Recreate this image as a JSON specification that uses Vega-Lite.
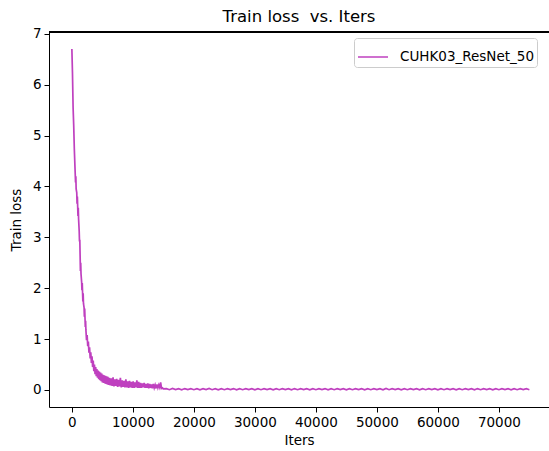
{
  "$schema": "https://vega.github.io/schema/vega-lite/v6.json",
  "width": 500,
  "height": 375,
  "autosize": {"type": "none"},
  "padding": {"left": 49, "top": 32, "right": 0, "bottom": 44},
  "background": "white",
  "config": {
    "font": "DejaVu Sans",
    "view": {"stroke": null},
    "axis": {"labelFont": "DejaVu Sans", "titleFont": "DejaVu Sans", "labelColor": "#000", "titleColor": "#000", "domainColor": "#000", "tickColor": "#000", "grid": false, "labelFontSize": 13.5, "titleFontSize": 13.5, "titleFontWeight": "normal", "tickSize": 5, "labelPadding": 3, "domainWidth": 1, "tickWidth": 1}
  },
  "title": {"text": "Train loss\u00a0\u00a0vs. Iters", "fontSize": 16.5, "fontWeight": "normal", "font": "DejaVu Sans", "color": "#000", "offset": 1, "anchor": "middle"},
  "data": {"values": [
    {"iter": 0, "loss": 6.70}, {"iter": 100, "loss": 6.22}, {"iter": 200, "loss": 5.55}, {"iter": 300, "loss": 5.20}, {"iter": 400, "loss": 4.74},
    {"iter": 500, "loss": 4.40}, {"iter": 600, "loss": 4.08}, {"iter": 650, "loss": 4.20}, {"iter": 700, "loss": 3.95}, {"iter": 800, "loss": 3.88}, {"iter": 850, "loss": 3.66}, {"iter": 900, "loss": 3.80},
    {"iter": 1000, "loss": 3.42}, {"iter": 1050, "loss": 3.58}, {"iter": 1100, "loss": 3.36}, {"iter": 1200, "loss": 3.12}, {"iter": 1250, "loss": 2.92}, {"iter": 1300, "loss": 2.95}, {"iter": 1400, "loss": 2.34},
    {"iter": 1450, "loss": 2.50}, {"iter": 1500, "loss": 2.28}, {"iter": 1600, "loss": 2.12}, {"iter": 1650, "loss": 1.96}, {"iter": 1700, "loss": 2.10}, {"iter": 1800, "loss": 1.74}, {"iter": 1850, "loss": 1.90}, {"iter": 1900, "loss": 1.70},
    {"iter": 2000, "loss": 1.62}, {"iter": 2050, "loss": 1.44}, {"iter": 2100, "loss": 1.60}, {"iter": 2200, "loss": 1.24}, {"iter": 2250, "loss": 1.36}, {"iter": 2300, "loss": 1.18}, {"iter": 2400, "loss": 0.98},
    {"iter": 2500, "loss": 1.08}, {"iter": 2600, "loss": 0.86}, {"iter": 2700, "loss": 0.95}, {"iter": 2800, "loss": 0.73}, {"iter": 2900, "loss": 0.84},
    {"iter": 3000, "loss": 0.62}, {"iter": 3100, "loss": 0.74}, {"iter": 3200, "loss": 0.53}, {"iter": 3300, "loss": 0.66}, {"iter": 3400, "loss": 0.45},
    {"iter": 3500, "loss": 0.58}, {"iter": 3600, "loss": 0.37}, {"iter": 3700, "loss": 0.50}, {"iter": 3800, "loss": 0.31}, {"iter": 3900, "loss": 0.45},
    {"iter": 4000, "loss": 0.27}, {"iter": 4100, "loss": 0.41}, {"iter": 4200, "loss": 0.24}, {"iter": 4300, "loss": 0.38}, {"iter": 4400, "loss": 0.21},
    {"iter": 4500, "loss": 0.36}, {"iter": 4600, "loss": 0.19}, {"iter": 4700, "loss": 0.34}, {"iter": 4800, "loss": 0.17}, {"iter": 4900, "loss": 0.32},
    {"iter": 5000, "loss": 0.15}, {"iter": 5100, "loss": 0.30}, {"iter": 5200, "loss": 0.14}, {"iter": 5300, "loss": 0.29}, {"iter": 5400, "loss": 0.13},
    {"iter": 5500, "loss": 0.28}, {"iter": 5600, "loss": 0.12}, {"iter": 5700, "loss": 0.27}, {"iter": 5800, "loss": 0.11}, {"iter": 5900, "loss": 0.26},
    {"iter": 6000, "loss": 0.10},
    {"iter": 6150, "loss": 0.24}, {"iter": 6300, "loss": 0.09}, {"iter": 6450, "loss": 0.23}, {"iter": 6600, "loss": 0.08}, {"iter": 6750, "loss": 0.25},
    {"iter": 6900, "loss": 0.07}, {"iter": 7050, "loss": 0.21}, {"iter": 7200, "loss": 0.08}, {"iter": 7350, "loss": 0.22}, {"iter": 7500, "loss": 0.06},
    {"iter": 7650, "loss": 0.20}, {"iter": 7800, "loss": 0.07}, {"iter": 7950, "loss": 0.24}, {"iter": 8100, "loss": 0.05}, {"iter": 8250, "loss": 0.19},
    {"iter": 8400, "loss": 0.06}, {"iter": 8550, "loss": 0.18}, {"iter": 8700, "loss": 0.05}, {"iter": 8850, "loss": 0.21}, {"iter": 9000, "loss": 0.05},
    {"iter": 9150, "loss": 0.17}, {"iter": 9300, "loss": 0.04}, {"iter": 9450, "loss": 0.18}, {"iter": 9600, "loss": 0.05}, {"iter": 9750, "loss": 0.16},
    {"iter": 9900, "loss": 0.04}, {"iter": 10050, "loss": 0.17}, {"iter": 10200, "loss": 0.04}, {"iter": 10350, "loss": 0.15}, {"iter": 10500, "loss": 0.05},
    {"iter": 10650, "loss": 0.19}, {"iter": 10800, "loss": 0.04}, {"iter": 10950, "loss": 0.16}, {"iter": 11100, "loss": 0.04}, {"iter": 11250, "loss": 0.14},
    {"iter": 11400, "loss": 0.04}, {"iter": 11550, "loss": 0.13}, {"iter": 11700, "loss": 0.05}, {"iter": 11850, "loss": 0.14}, {"iter": 12000, "loss": 0.04},
    {"iter": 12150, "loss": 0.12}, {"iter": 12300, "loss": 0.04}, {"iter": 12450, "loss": 0.13}, {"iter": 12600, "loss": 0.03}, {"iter": 12750, "loss": 0.12},
    {"iter": 12900, "loss": 0.04}, {"iter": 13050, "loss": 0.11}, {"iter": 13200, "loss": 0.03}, {"iter": 13350, "loss": 0.12}, {"iter": 13500, "loss": 0.04},
    {"iter": 13650, "loss": 0.10}, {"iter": 13800, "loss": 0.03}, {"iter": 13950, "loss": 0.11}, {"iter": 14100, "loss": 0.04}, {"iter": 14250, "loss": 0.10},
    {"iter": 14400, "loss": 0.05}, {"iter": 14550, "loss": 0.15}, {"iter": 14700, "loss": 0.03}, {"iter": 14850, "loss": 0.04}, {"iter": 15000, "loss": 0.02},
    {"iter": 15500, "loss": 0.025}, {"iter": 16000, "loss": 0.005}, {"iter": 16500, "loss": 0.028}, {"iter": 17000, "loss": 0.006}, {"iter": 17500, "loss": 0.024},
    {"iter": 18000, "loss": 0.004}, {"iter": 18500, "loss": 0.027}, {"iter": 19000, "loss": 0.006}, {"iter": 19500, "loss": 0.025}, {"iter": 20000, "loss": 0.005},
    {"iter": 20500, "loss": 0.026}, {"iter": 21000, "loss": 0.004}, {"iter": 21500, "loss": 0.024}, {"iter": 22000, "loss": 0.006}, {"iter": 22500, "loss": 0.028},
    {"iter": 23000, "loss": 0.005}, {"iter": 23500, "loss": 0.025}, {"iter": 24000, "loss": 0.004}, {"iter": 24500, "loss": 0.026}, {"iter": 25000, "loss": 0.005},
    {"iter": 25500, "loss": 0.024}, {"iter": 26000, "loss": 0.006}, {"iter": 26500, "loss": 0.027}, {"iter": 27000, "loss": 0.004}, {"iter": 27500, "loss": 0.025},
    {"iter": 28000, "loss": 0.005}, {"iter": 28500, "loss": 0.024}, {"iter": 29000, "loss": 0.006}, {"iter": 29500, "loss": 0.026}, {"iter": 30000, "loss": 0.004},
    {"iter": 30500, "loss": 0.025}, {"iter": 31000, "loss": 0.005}, {"iter": 31500, "loss": 0.027}, {"iter": 32000, "loss": 0.006}, {"iter": 32500, "loss": 0.024},
    {"iter": 33000, "loss": 0.004}, {"iter": 33500, "loss": 0.025}, {"iter": 34000, "loss": 0.005}, {"iter": 34500, "loss": 0.026}, {"iter": 35000, "loss": 0.006},
    {"iter": 35500, "loss": 0.024}, {"iter": 36000, "loss": 0.004}, {"iter": 36500, "loss": 0.027}, {"iter": 37000, "loss": 0.005}, {"iter": 37500, "loss": 0.025},
    {"iter": 38000, "loss": 0.006}, {"iter": 38500, "loss": 0.024}, {"iter": 39000, "loss": 0.004}, {"iter": 39500, "loss": 0.026}, {"iter": 40000, "loss": 0.005},
    {"iter": 40500, "loss": 0.025}, {"iter": 41000, "loss": 0.006}, {"iter": 41500, "loss": 0.027}, {"iter": 42000, "loss": 0.004}, {"iter": 42500, "loss": 0.024},
    {"iter": 43000, "loss": 0.005}, {"iter": 43500, "loss": 0.025}, {"iter": 44000, "loss": 0.006}, {"iter": 44500, "loss": 0.026}, {"iter": 45000, "loss": 0.004},
    {"iter": 45500, "loss": 0.024}, {"iter": 46000, "loss": 0.005}, {"iter": 46500, "loss": 0.027}, {"iter": 47000, "loss": 0.006}, {"iter": 47500, "loss": 0.025},
    {"iter": 48000, "loss": 0.004}, {"iter": 48500, "loss": 0.024}, {"iter": 49000, "loss": 0.005}, {"iter": 49500, "loss": 0.026}, {"iter": 50000, "loss": 0.006},
    {"iter": 50500, "loss": 0.025}, {"iter": 51000, "loss": 0.004}, {"iter": 51500, "loss": 0.030}, {"iter": 52000, "loss": 0.005}, {"iter": 52500, "loss": 0.024},
    {"iter": 53000, "loss": 0.006}, {"iter": 53500, "loss": 0.026}, {"iter": 54000, "loss": 0.004}, {"iter": 54500, "loss": 0.025}, {"iter": 55000, "loss": 0.005},
    {"iter": 55500, "loss": 0.027}, {"iter": 56000, "loss": 0.006}, {"iter": 56500, "loss": 0.024}, {"iter": 57000, "loss": 0.004}, {"iter": 57500, "loss": 0.025},
    {"iter": 58000, "loss": 0.005}, {"iter": 58500, "loss": 0.026}, {"iter": 59000, "loss": 0.006}, {"iter": 59500, "loss": 0.024}, {"iter": 60000, "loss": 0.004},
    {"iter": 60500, "loss": 0.025}, {"iter": 61000, "loss": 0.005}, {"iter": 61500, "loss": 0.027}, {"iter": 62000, "loss": 0.006}, {"iter": 62500, "loss": 0.024},
    {"iter": 63000, "loss": 0.004}, {"iter": 63500, "loss": 0.026}, {"iter": 64000, "loss": 0.005}, {"iter": 64500, "loss": 0.025}, {"iter": 65000, "loss": 0.006},
    {"iter": 65500, "loss": 0.024}, {"iter": 66000, "loss": 0.004}, {"iter": 66500, "loss": 0.027}, {"iter": 67000, "loss": 0.005}, {"iter": 67500, "loss": 0.025},
    {"iter": 68000, "loss": 0.006}, {"iter": 68500, "loss": 0.024}, {"iter": 69000, "loss": 0.004}, {"iter": 69500, "loss": 0.026}, {"iter": 70000, "loss": 0.005},
    {"iter": 70500, "loss": 0.025}, {"iter": 71000, "loss": 0.006}, {"iter": 71500, "loss": 0.024}, {"iter": 72000, "loss": 0.004}, {"iter": 72500, "loss": 0.026},
    {"iter": 73000, "loss": 0.005}, {"iter": 73500, "loss": 0.025}, {"iter": 74000, "loss": 0.006}, {"iter": 74500, "loss": 0.024}, {"iter": 75000, "loss": 0.005}
  ]},
  "layer": [
    {
      "mark": {"type": "line", "strokeWidth": 1.7, "clip": true},
      "encoding": {
        "x": {"field": "iter", "type": "quantitative", "title": "Iters",
              "scale": {"domain": [-3750, 78217], "nice": false, "zero": false},
              "axis": {"values": [0, 10000, 20000, 30000, 40000, 50000, 60000, 70000], "format": "d", "titlePadding": 5}},
        "y": {"field": "loss", "type": "quantitative", "title": "Train loss",
              "scale": {"domain": [-0.335, 7.035], "nice": false, "zero": false},
              "axis": {"values": [0, 1, 2, 3, 4, 5, 6, 7], "titlePadding": 9}},
        "color": {"datum": "CUHK03_ResNet_50", "type": "nominal",
                  "scale": {"domain": ["CUHK03_ResNet_50"], "range": ["#bf40bf"]},
                  "legend": {"title": null, "orient": "none", "legendX": 305, "legendY": 6,
                             "symbolType": "stroke", "symbolSize": 900, "symbolStrokeWidth": 1.5,
                             "labelFontSize": 13.5, "labelFont": "DejaVu Sans", "labelColor": "#000", "labelOffset": 11,
                             "strokeColor": "#cccccc", "fillColor": "white", "cornerRadius": 3, "padding": 3}}
      }
    },
    {
      "mark": {"type": "rule", "color": "#000", "strokeWidth": 1},
      "encoding": {"y": {"datum": 7.035}}
    }
  ]
}
